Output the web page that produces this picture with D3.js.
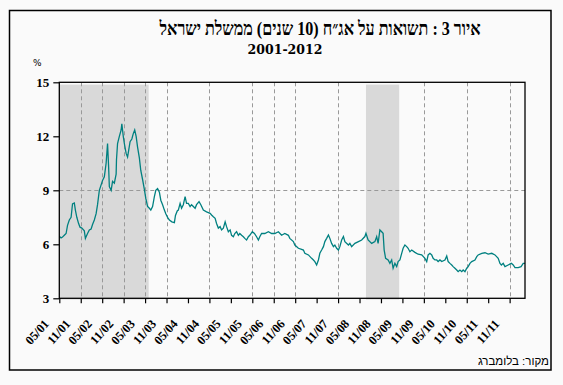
<!DOCTYPE html>
<html>
<head>
<meta charset="utf-8">
<script src="https://cdn.jsdelivr.net/npm/d3@7"></script>
<style>
  html, body { margin: 0; padding: 0; background: #fafafa; }
  svg { display: block; }
</style>
</head>
<body>
<svg id="chart" width="563" height="385"></svg>
<script>
// ---- data ----
const titleText = "איור 3 : תשואות על אג״ח (10 שנים) ממשלת ישראל";
const subtitleText = "2001-2012";
const unitText = "%";
const sourceText = "מקור: בלומברג";

// months elapsed since May 2001
const months = [
  0, 0.5, 0.9, 1.4, 1.9, 2.3, 2.8, 3.3, 3.7, 4.2, 4.5, 4.9, 5.4, 5.8, 6.3, 7.0, 7.3, 7.9, 8.4, 8.9,
  9.3, 9.8, 10.3, 10.7, 11.2, 11.7, 12.1, 12.6, 13.1, 13.5, 13.8, 14.0, 14.5, 14.9, 15.4, 15.9, 16.0, 16.3, 16.8, 17.3,
  17.5, 17.9, 18.2, 18.7, 19.1, 19.4, 19.8, 20.3, 20.7, 21.1, 21.5, 21.9, 22.4, 22.8, 23.3, 23.8, 24.2, 24.7, 25.2, 25.6,
  26.1, 26.6, 27.0, 27.5, 28.0, 28.4, 28.9, 29.4, 29.8, 30.3, 30.8, 31.5, 32.2, 32.5, 33.0, 33.3, 33.8, 34.2, 34.7, 35.2,
  35.6, 36.1, 36.6, 37.0, 37.5, 38.0, 38.4, 39.1, 39.6, 40.3, 41.2, 42.2, 42.6, 43.1, 43.6, 44.0, 44.5, 45.0, 45.4, 45.9,
  46.4, 46.8, 47.3, 47.8, 48.2, 48.7, 49.1, 49.6, 50.1, 50.5, 51.0, 51.5, 51.9, 52.4, 52.9, 53.3, 54.0, 54.6, 55.2, 55.7,
  56.1, 56.6, 57.5, 58.5, 59.4, 60.3, 61.3, 62.2, 63.1, 64.1, 64.5, 65.5, 65.9, 66.9, 67.8, 68.3, 68.7, 69.7, 70.6, 71.1,
  71.5, 72.0, 72.5, 72.9, 73.4, 73.9, 74.3, 74.8, 75.3, 75.7, 76.2, 76.7, 77.1, 77.6, 78.1, 78.5, 79.0, 79.5, 79.9, 80.9,
  81.3, 81.8, 82.7, 83.7, 84.6, 85.5, 85.8, 86.4, 87.4, 88.3, 88.8, 89.2, 89.7, 90.2, 90.6, 90.9, 91.3, 92.0, 92.5, 93.0,
  93.4, 93.9, 94.4, 94.8, 95.3, 95.8, 96.2, 96.7, 97.2, 97.6, 98.1, 98.6, 99.5, 100.4, 101.4, 102.3, 102.8, 103.2, 103.7, 104.2,
  104.6, 105.1, 105.6, 106.0, 106.5, 107.0, 107.9, 108.4, 108.8, 109.3, 109.8, 110.2, 110.7, 111.2, 111.6, 112.1, 112.6, 113.0, 113.5, 114.0,
  114.4, 114.9, 115.4, 116.3, 116.8, 117.2, 118.2, 119.1, 120.0, 121.0, 121.9, 122.8, 123.3, 123.7, 124.2, 124.7, 125.6, 126.5, 127.0, 127.5,
  128.4, 129.2, 129.8, 130.3
];
const yields = [
  6.45, 6.35, 6.4, 6.5, 6.6, 7.05, 7.35, 7.5, 8.25, 8.3, 7.9, 7.5, 7.15, 6.95, 6.9, 6.75, 6.33, 6.6, 6.8, 6.85,
  7.1, 7.35, 7.7, 8.2, 9.0, 9.3, 9.55, 9.75, 10.5, 11.6, 10.3, 9.2, 9.0, 9.5, 9.4, 9.9, 10.7, 11.6, 12.0, 12.35,
  12.7, 12.0, 11.6, 11.05, 10.85, 11.2, 11.7, 11.85, 12.15, 12.35, 12.0, 11.4, 10.8, 10.1, 9.6, 9.05, 8.55, 8.1, 8.0, 7.9,
  8.1, 8.65, 9.0, 9.1, 8.9, 8.45, 8.2, 7.9, 7.7, 7.5, 7.35, 7.25, 7.2, 7.6, 7.85, 7.9, 8.27, 8.0, 8.2, 8.65,
  8.27, 8.27, 8.1, 8.2, 8.1, 8.0, 8.2, 8.37, 8.2, 7.9, 7.8, 7.72, 7.63, 7.53, 7.44, 7.16, 6.9, 6.98, 6.8, 6.9,
  7.25, 6.98, 6.7, 6.8, 6.5, 6.42, 6.6, 6.7, 6.5, 6.6, 6.5, 6.42, 6.33, 6.24, 6.42, 6.5, 6.7, 6.6, 6.42, 6.24,
  6.42, 6.6, 6.6, 6.7, 6.6, 6.6, 6.7, 6.5, 6.6, 6.5, 6.33, 6.15, 5.96, 5.78, 5.72, 5.68, 5.5, 5.41, 5.22, 5.13,
  5.04, 4.85, 5.13, 5.5, 5.68, 5.87, 6.15, 6.33, 6.52, 6.33, 6.05, 5.87, 5.96, 5.78, 5.68, 5.87, 6.24, 6.43, 6.15, 5.96,
  6.05, 5.87, 6.05, 6.15, 6.24, 6.43, 6.61, 6.24, 6.05, 6.15, 6.43, 6.05, 6.8, 6.7, 6.61, 5.68, 5.22, 5.13, 4.94, 5.13,
  4.67, 4.94, 4.76, 5.04, 5.13, 5.5, 5.78, 5.96, 5.87, 5.78, 5.59, 5.68, 5.55, 5.45, 5.41, 5.22, 5.04, 5.41, 5.5, 5.41,
  5.22, 5.13, 5.13, 5.04, 5.13, 5.04, 5.13, 5.35, 5.04, 4.94, 4.85, 4.76, 4.67, 4.57, 4.48, 4.57, 4.48, 4.57, 4.48, 4.67,
  4.76, 4.94, 5.04, 5.13, 5.31, 5.41, 5.5, 5.53, 5.46, 5.5, 5.41, 5.22, 4.94, 4.85, 4.94, 4.76, 4.85, 4.94, 4.85, 4.7,
  4.7, 4.76, 4.94, 4.94
];

const tickLabels = ["05/01","11/01","05/02","11/02","05/03","11/03","05/04","11/04","05/05","11/05","05/06",
                    "11/06","05/07","11/07","05/08","11/08","05/09","11/09","05/10","11/10","05/11","11/11"];
const gridLabels = ["11/01","05/02","11/02","05/03","11/03","11/04","11/05","05/06","11/06","11/07","11/09","11/10","11/11"];
const yTicks = [3, 6, 9, 12, 15];
const yGrid = [9];
// shaded periods (months since May 2001)
const shadeStart = [0, 85.8];
const shadeEnd = [25.0, 95.1];
const monthDomain = [0, 130.3];

// ---- layout ----
const svg = d3.select("#chart");
const L = 59.3, R = 525, T = 82.3, B = 298.3;

const x = d3.scaleLinear().domain(monthDomain).range([L, R]);
const y = d3.scaleLinear().domain([3, 15]).range([B, T]);
const tickMonth = d => tickLabels.indexOf(d) * 6;

// outer frame
svg.append("rect").attr("x", 9.5).attr("y", 10.5).attr("width", 541.5).attr("height", 359.5)
  .attr("fill", "#fafafa").attr("stroke", "#000").attr("stroke-width", 1.5);

// shading
svg.append("g").selectAll("rect").data(shadeStart).join("rect")
  .attr("x", (d) => x(d))
  .attr("width", (d, i) => x(shadeEnd[i]) - x(d))
  .attr("y", y(15) + 2.3)
  .attr("height", (y(3) + 1.3) - (y(15) + 2.3))
  .attr("fill", "#d9d9d9");

// gridlines
svg.append("g").selectAll("line").data(gridLabels).join("line")
  .attr("x1", d => Math.round(x(tickMonth(d))) + 0.5).attr("x2", d => Math.round(x(tickMonth(d))) + 0.5)
  .attr("y1", T).attr("y2", B)
  .attr("stroke", "#999").attr("stroke-width", 1).attr("stroke-dasharray", "4,3");
svg.append("g").selectAll("line").data(yGrid).join("line")
  .attr("x1", L).attr("x2", R)
  .attr("y1", d => Math.round(y(d)) + 0.5).attr("y2", d => Math.round(y(d)) + 0.5)
  .attr("stroke", "#999").attr("stroke-width", 1).attr("stroke-dasharray", "4,3");

// line
const data = months.map((m, i) => ({ m, v: yields[i] }));
svg.append("path").datum(data)
  .attr("fill", "none").attr("stroke", "#008080").attr("stroke-width", 1.3)
  .attr("d", d3.line().x(d => x(d.m)).y(d => y(d.v)));

// plot frame
svg.append("rect").attr("x", L).attr("y", T).attr("width", R - L).attr("height", B - T)
  .attr("fill", "none").attr("stroke", "#000").attr("stroke-width", 1.3);

// x axis
const xAxis = d3.axisBottom(x)
  .tickValues(tickLabels.map(tickMonth))
  .tickFormat((d, i) => tickLabels[i])
  .tickSize(5).tickSizeOuter(0);
const gx = svg.append("g").attr("transform", `translate(0,${B})`).call(xAxis);
gx.select(".domain").remove();
gx.selectAll(".tick line").attr("stroke", "#000").attr("stroke-width", 1.2);
gx.selectAll(".tick text")
  .attr("x", 0).attr("y", 0).attr("dy", 0)
  .attr("text-anchor", "end")
  .attr("transform", "translate(-10,26) rotate(-48)")
  .attr("font-family", "'Liberation Serif', 'Times New Roman', serif")
  .attr("font-weight", "bold").attr("font-size", 12.5).attr("fill", "#000");

// y axis
const yAxis = d3.axisLeft(y).tickValues(yTicks).tickFormat(d3.format("d")).tickSize(6).tickSizeOuter(0);
const gy = svg.append("g").attr("transform", `translate(${L},0)`).call(yAxis);
gy.select(".domain").remove();
gy.selectAll(".tick line").attr("stroke", "#000").attr("stroke-width", 1.2);
gy.selectAll(".tick text")
  .attr("x", -10)
  .attr("font-family", "'Liberation Serif', 'Times New Roman', serif")
  .attr("font-weight", "bold").attr("font-size", 13).attr("fill", "#000");

// titles
svg.append("text").attr("x", 320).attr("y", 35)
  .attr("direction", "rtl").style("direction", "rtl")
  .attr("text-anchor", "middle")
  .attr("textLength", 321).attr("lengthAdjust", "spacingAndGlyphs")
  .attr("font-family", "'Liberation Serif', 'Times New Roman', serif")
  .attr("font-weight", "bold").attr("font-size", 19).attr("fill", "#000")
  .text(titleText);

svg.append("text").attr("x", 285).attr("y", 54)
  .attr("text-anchor", "middle")
  .attr("font-family", "'DejaVu Serif', serif")
  .attr("font-weight", "bold").attr("font-size", 12.5).attr("fill", "#000")
  .text(subtitleText);
svg.append("text").attr("x", 33).attr("y", 66)
  .attr("font-family", "'DejaVu Sans', sans-serif")
  .attr("font-size", 9).attr("fill", "#000")
  .text(unitText);
svg.append("text").attr("x", 549).attr("y", 365)
  .attr("direction", "rtl").style("direction", "rtl")
  .attr("text-anchor", "start")
  .attr("font-family", "'Liberation Sans', Arial, sans-serif")
  .attr("font-size", 11.5).attr("fill", "#000")
  .text(sourceText);
</script>
</body>
</html>
